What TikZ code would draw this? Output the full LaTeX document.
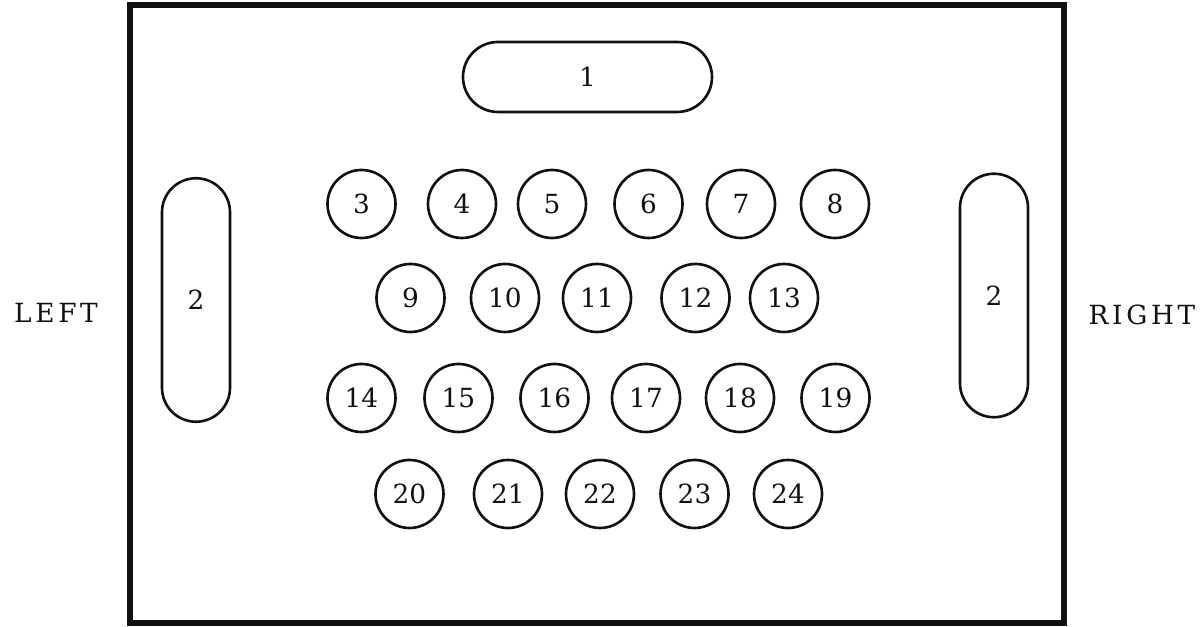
\documentclass[tikz,border=0pt]{standalone}
\usepackage{tikz}
\usetikzlibrary{positioning}
\usepackage{fontspec}
\setmainfont{DejaVu Serif}
\newfontfamily\sidefont[LetterSpace=14]{DejaVu Serif}
\definecolor{ink}{HTML}{111111}

\begin{document}
\begin{tikzpicture}[
  seat/.style={draw=ink, circle, line width=1.5pt, minimum size=1.36cm, inner sep=0pt, font=\fontsize{15}{17}\selectfont, text=ink},
  bar/.style 2 args={draw=ink, line width=1.5pt, rounded corners=#2, minimum width=#1, minimum height=1.36cm, align=center, font=\fontsize{15}{17}\selectfont, text=ink},
  vbar/.style={draw=ink, line width=1.5pt, rounded corners=0.68cm, minimum width=1.36cm, minimum height=4.87cm, font=\fontsize{15}{17}\selectfont, text=ink},
  side/.style={font=\sidefont\fontsize{15}{17}\selectfont, text=ink},
]
\useasboundingbox (0,0) rectangle (24.04,12.54);

% outer frame
\draw[ink, line width=3.4pt] (2.60,0.08) rectangle (21.28,12.44);

\node[bar={4.98cm}{0.70cm}, minimum height=1.40cm] (top) at (11.75, 11.00) {1};
\node[vbar] (lbar) at (3.92, 6.54) {2};
\node[vbar] (rbar) at (19.88, 6.63) {2};

\node[side] (left) at (1.12, 6.28) {LEFT};
\node[side] (right) at (22.84, 6.25) {RIGHT};

% row 1
\node[seat] (s3) at (7.23, 8.46) {3};
\node[seat] (s4) at (9.24, 8.46) {4};
\node[seat] (s5) at (11.04, 8.46) {5};
\node[seat] (s6) at (12.97, 8.46) {6};
\node[seat] (s7) at (14.82, 8.46) {7};
\node[seat] (s8) at (16.70, 8.46) {8};

% row 2
\node[seat] (s9) at (8.21, 6.58) {9};
\node[seat] (s10) at (10.10, 6.58) {10};
\node[seat] (s11) at (11.94, 6.58) {11};
\node[seat] (s12) at (13.91, 6.58) {12};
\node[seat] (s13) at (15.68, 6.58) {13};

% row 3
\node[seat] (s14) at (7.23, 4.58) {14};
\node[seat] (s15) at (9.17, 4.58) {15};
\node[seat] (s16) at (11.09, 4.58) {16};
\node[seat] (s17) at (12.92, 4.58) {17};
\node[seat] (s18) at (14.80, 4.58) {18};
\node[seat] (s19) at (16.71, 4.58) {19};

% row 4
\node[seat] (s20) at (8.19, 2.66) {20};
\node[seat] (s21) at (10.16, 2.66) {21};
\node[seat] (s22) at (12.00, 2.66) {22};
\node[seat] (s23) at (13.89, 2.66) {23};
\node[seat] (s24) at (15.76, 2.66) {24};

\end{tikzpicture}
\end{document}
